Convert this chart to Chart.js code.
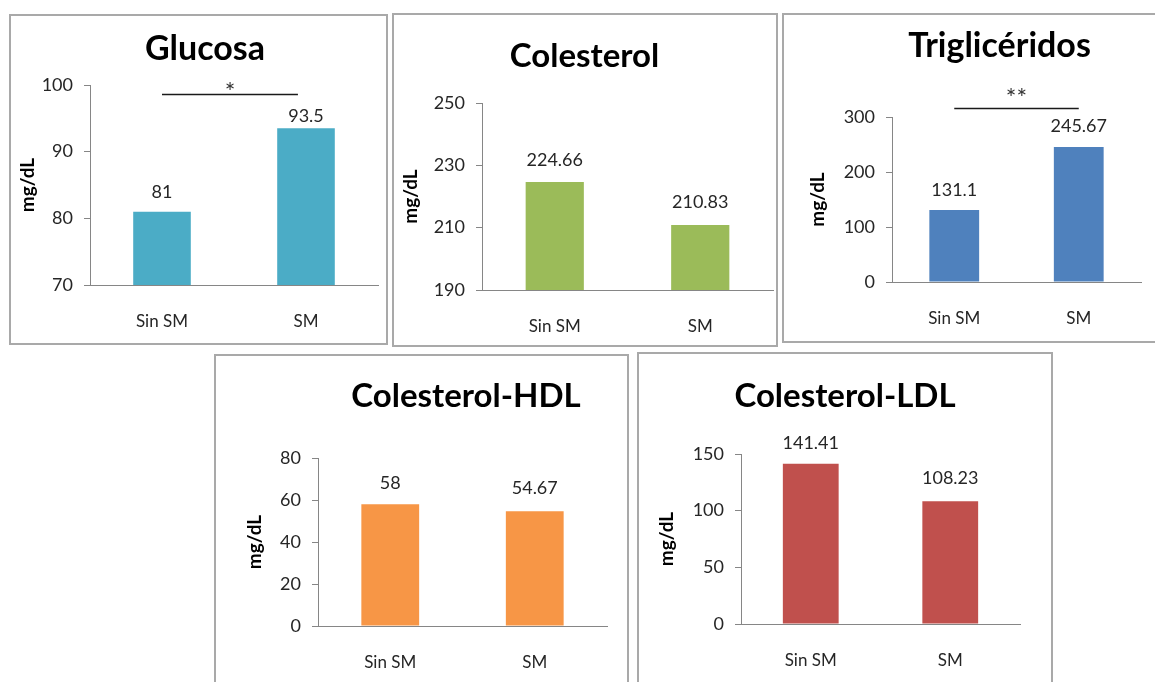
<!DOCTYPE html>
<html>
<head>
<meta charset="utf-8">
<title>Perfil metabólico: Sin SM vs SM</title>
<script src="https://cdn.jsdelivr.net/npm/chart.js@4/dist/chart.umd.min.js"></script>
<style>
  html, body { margin: 0; padding: 0; background: #ffffff; }
  body { position: relative; width: 1155px; height: 682px; overflow: hidden; }
  .panel { position: absolute; box-sizing: border-box; border: 2px solid #a9a9a9; background: #fff; overflow: hidden; }
  .panel canvas { position: absolute; left: 0; top: 0; }
</style>
</head>
<body>
<script>
// ---- data ----
const categories = ['Sin SM', 'SM'];

const glucosa       = [81, 93.5];
const colesterol    = [224.66, 210.83];
const trigliceridos = [131.1, 245.67];
const hdl           = [58, 54.67];
const ldl           = [141.41, 108.23];

// y-axis tick values for each panel
const glucosaTicks       = [70, 80, 90, 100];
const colesterolTicks    = [190, 210, 230, 250];
const trigliceridosTicks = [0, 100, 200, 300];
const hdlTicks           = [0, 20, 40, 60, 80];
const ldlTicks           = [0, 50, 100, 150];

// significance marks between the two groups
const glucosaSig       = '*';
const trigliceridosSig = '**';

// ---- layout & style per panel ----
const FONT = 'Lato, "Open Sans", "DejaVu Sans", sans-serif';
const AXIS = '#868686';
const TEXT = '#262626';

const panels = [
  { title: 'Glucosa', values: glucosa, ticks: glucosaTicks, color: '#4BACC6',
    box: [9, 14, 379, 331], plot: [90, 85, 378, 285],
    titleSize: 34, titleX: 205, titleBase: 60, yTitleX: 18.5, labelGap: [14, 6],
    sig: { text: glucosaSig, line: 98.65, star: 100, span: 0.944 } },
  { title: 'Colesterol', values: colesterol, ticks: colesterolTicks, color: '#9BBB59',
    box: [392, 13, 386, 334], plot: [482, 103, 773, 290],
    titleSize: 33, titleX: 584.5, titleBase: 67, yTitleX: 19, labelGap: [16, 17] },
  { title: 'Triglicéridos', values: trigliceridos, ticks: trigliceridosTicks, color: '#4F81BD',
    box: [782, 13, 380, 330], plot: [892, 117, 1141, 282],
    titleSize: 34, titleX: 999.5, titleBase: 57, yTitleX: 36, labelGap: [14, 15],
    sig: { text: trigliceridosSig, line: 316.4, star: 345.5, span: 1.0 } },
  { title: 'Colesterol-HDL', values: hdl, ticks: hdlTicks, color: '#F79646',
    box: [214, 354, 415, 340], plot: [318, 458, 607, 626],
    titleSize: 33, titleX: 466, titleBase: 407, yTitleX: 41, labelGap: [15, 17] },
  { title: 'Colesterol-LDL', values: ldl, ticks: ldlTicks, color: '#C0504D',
    box: [637, 352, 416, 340], plot: [741, 454, 1020, 624],
    titleSize: 33, titleX: 845, titleBase: 407, yTitleX: 30, labelGap: [15, 17] }
];

// Panel title, value labels and significance bracket
const annotations = {
  id: 'annotations',
  afterDraw(chart, args, opts) {
    const p = opts.panel;
    const ctx = chart.ctx;
    const ox = p.box[0] + 2, oy = p.box[1] + 2;
    ctx.save();

    // title
    ctx.fillStyle = '#000';
    ctx.font = `bold ${p.titleSize}px ${FONT}`;
    ctx.textAlign = 'center';
    ctx.textBaseline = 'alphabetic';
    ctx.fillText(p.title, p.titleX - ox, p.titleBase - oy);

    // value labels above the bars
    const meta = chart.getDatasetMeta(0);
    ctx.font = `18px ${FONT}`;
    ctx.fillStyle = TEXT;
    meta.data.forEach((bar, i) => {
      const v = chart.data.datasets[0].data[i];
      ctx.fillText(String(v), bar.x, bar.y - p.labelGap[i]);
    });

    // significance bracket
    if (p.sig) {
      const y = chart.scales.y;
      const x0 = meta.data[0].x;
      const x1 = x0 + (meta.data[1].x - x0) * p.sig.span;
      const ly = Math.round(y.getPixelForValue(p.sig.line)) + 0.5;
      ctx.strokeStyle = '#1a1a1a';
      ctx.lineWidth = 1.5;
      ctx.beginPath();
      ctx.moveTo(x0, ly);
      ctx.lineTo(x1, ly);
      ctx.stroke();
      ctx.font = `25px ${FONT}`;
      const m = ctx.measureText(p.sig.text);
      const sy = y.getPixelForValue(p.sig.star);
      const base = sy + (m.actualBoundingBoxAscent - m.actualBoundingBoxDescent) / 2;
      ctx.fillStyle = '#333';
      ctx.fillText(p.sig.text, (x0 + x1) / 2, base);
    }
    ctx.restore();
  }
};

panels.forEach(p => {
  const [bx, by, bw, bh] = p.box;
  const [pl, pt, pr, pb] = p.plot;
  const div = document.createElement('div');
  div.className = 'panel';
  div.style.left = bx + 'px';
  div.style.top = by + 'px';
  div.style.width = bw + 'px';
  div.style.height = bh + 'px';
  const cw = bw - 4, ch = bh - 4;
  const canvas = document.createElement('canvas');
  canvas.width = cw; canvas.height = ch;
  canvas.style.width = cw + 'px'; canvas.style.height = ch + 'px';
  div.appendChild(canvas);
  document.body.appendChild(div);

  const cx = bx + 2, cy = by + 2;
  const yWidth = pl - cx;
  const xHeight = (cy + ch) - pb;
  const t = p.ticks;

  new Chart(canvas, {
    type: 'bar',
    data: {
      labels: categories,
      datasets: [{
        data: p.values,
        backgroundColor: p.color,
        borderWidth: 0,
        barPercentage: 0.4,
        categoryPercentage: 1.0
      }]
    },
    options: {
      responsive: false,
      animation: false,
      devicePixelRatio: 1,
      layout: { padding: { left: 0, top: pt - cy, right: (cx + cw) - pr, bottom: 0 } },
      plugins: {
        legend: { display: false },
        tooltip: { enabled: false },
        title: { display: false },
        annotations: { panel: p }
      },
      scales: {
        x: {
          grid: { display: true, drawOnChartArea: false, drawTicks: false },
          border: { display: true, color: AXIS, width: 1 },
          ticks: { color: TEXT, font: { family: FONT, size: 17 }, padding: 26, maxRotation: 0 },
          afterFit: s => { s.height = xHeight; }
        },
        y: {
          min: t[0],
          max: t[t.length - 1],
          ticks: { stepSize: t[1] - t[0], color: TEXT, font: { family: FONT, size: 18 }, padding: 11 },
          grid: { display: true, drawOnChartArea: false, drawTicks: true, tickLength: 6, color: AXIS },
          border: { display: true, color: AXIS, width: 1 },
          title: {
            display: true, text: 'mg/dL', color: '#000',
            font: { family: FONT, size: 19, weight: 'bold', lineHeight: 1 },
            padding: { top: p.yTitleX - 2 - 9.5, bottom: 0 }
          },
          afterFit: s => { s.width = yWidth; }
        }
      }
    },
    plugins: [annotations]
  });
});
</script>
</body>
</html>
